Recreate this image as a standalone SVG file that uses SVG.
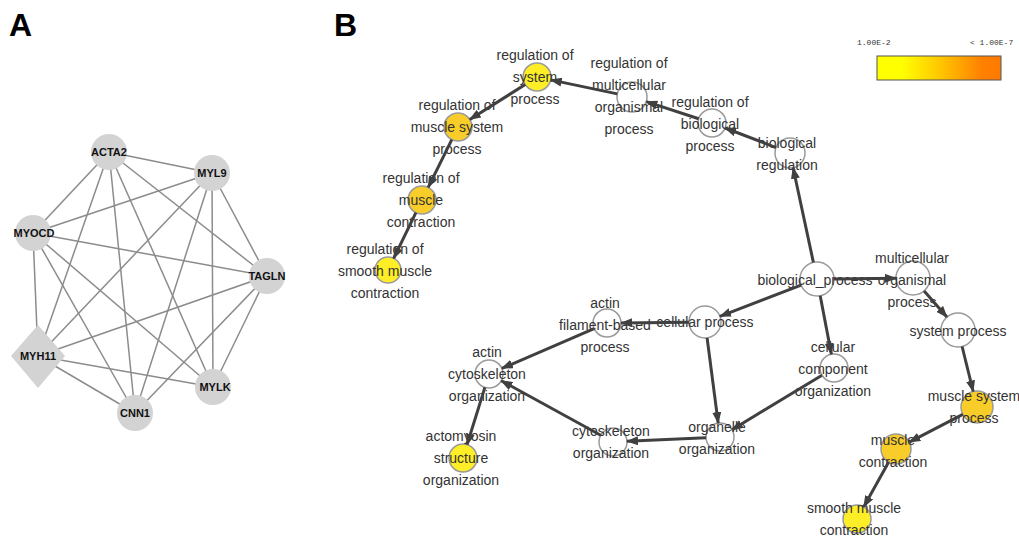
<svg xmlns="http://www.w3.org/2000/svg" width="1019" height="537" viewBox="0 0 1019 537">
<style>
.panel{font-family:"Liberation Sans",Arial,sans-serif;font-weight:bold;font-size:32px;fill:#000}
.ae{stroke:#8c8c8c;stroke-width:1.5;fill:none}
.an{fill:#d3d3d3;stroke:none}
.al{font-family:"Liberation Sans",Arial,sans-serif;font-weight:bold;font-size:11px;fill:#111;text-anchor:middle}
.bn{stroke:#9a9a9a;stroke-width:1.5;fill:#fff}
.yel{fill:#fdee27}
.org{fill:#f8cd2a}
.bl{font-family:"Liberation Sans",Arial,sans-serif;font-size:14px;fill:#333;text-anchor:middle}
.be{stroke:#404040;stroke-width:3;fill:none;marker-end:url(#ah)}
.leg{font-family:"Liberation Mono","Courier New",monospace;font-size:8px;fill:#333}
</style>
<defs>
<marker id="ah" markerUnits="userSpaceOnUse" markerWidth="12" markerHeight="9" refX="11" refY="4.5" orient="auto">
<path d="M0,0 L12,4.5 L0,9 z" fill="#404040"/>
</marker>
<linearGradient id="grad" x1="0" y1="0" x2="1" y2="0">
<stop offset="0" stop-color="#ffff00"/>
<stop offset="0.2" stop-color="#ffff00"/>
<stop offset="0.5" stop-color="#ffc800"/>
<stop offset="0.85" stop-color="#ff8000"/>
<stop offset="1" stop-color="#ff7a00"/>
</linearGradient>
</defs>
<rect width="1019" height="537" fill="#fff"/>
<text class="panel" x="9" y="36">A</text>
<text class="panel" x="334" y="36">B</text>

<g id="a-edges">
<line class="ae" x1="109" y1="152" x2="212" y2="173"/>
<line class="ae" x1="109" y1="152" x2="33" y2="233"/>
<line class="ae" x1="109" y1="152" x2="267" y2="276"/>
<line class="ae" x1="109" y1="152" x2="38" y2="356"/>
<line class="ae" x1="109" y1="152" x2="135" y2="413"/>
<line class="ae" x1="109" y1="152" x2="213" y2="387"/>
<line class="ae" x1="212" y1="173" x2="33" y2="233"/>
<line class="ae" x1="212" y1="173" x2="267" y2="276"/>
<line class="ae" x1="212" y1="173" x2="38" y2="356"/>
<line class="ae" x1="212" y1="173" x2="135" y2="413"/>
<line class="ae" x1="212" y1="173" x2="213" y2="387"/>
<line class="ae" x1="33" y1="233" x2="267" y2="276"/>
<line class="ae" x1="33" y1="233" x2="38" y2="356"/>
<line class="ae" x1="33" y1="233" x2="135" y2="413"/>
<line class="ae" x1="33" y1="233" x2="213" y2="387"/>
<line class="ae" x1="267" y1="276" x2="38" y2="356"/>
<line class="ae" x1="267" y1="276" x2="213" y2="387"/>
<line class="ae" x1="267" y1="276" x2="135" y2="413"/>
<line class="ae" x1="38" y1="356" x2="213" y2="387"/>
<line class="ae" x1="38" y1="356" x2="135" y2="413"/>
</g>

<g id="a-ACTA2"><circle class="an" cx="109" cy="152" r="18"/><text class="al" x="109" y="156">ACTA2</text></g>
<g id="a-MYL9"><circle class="an" cx="212" cy="173" r="18"/><text class="al" x="212" y="177">MYL9</text></g>
<g id="a-MYOCD"><circle class="an" cx="33" cy="233" r="18"/><text class="al" x="34" y="237">MYOCD</text></g>
<g id="a-TAGLN"><circle class="an" cx="267" cy="276" r="18"/><text class="al" x="267" y="280">TAGLN</text></g>
<g id="a-MYH11"><polygon class="an" points="38,325 65,356 38,388 11,356"/><text class="al" x="38" y="360">MYH11</text></g>
<g id="a-MYLK"><circle class="an" cx="213" cy="387" r="18"/><text class="al" x="215" y="391">MYLK</text></g>
<g id="a-CNN1"><circle class="an" cx="135" cy="413" r="18"/><text class="al" x="135" y="417">CNN1</text></g>

<g id="legend">
<text class="leg" x="857" y="45">1.00E-2</text>
<text class="leg" x="970" y="45">&lt; 1.00E-7</text>
<rect x="877" y="56" width="124" height="24" fill="url(#grad)" stroke="#555" stroke-width="1"/>
</g>

<g id="n-reg-system">
<circle class="bn yel" cx="537" cy="77" r="14"/>
<text class="bl" x="535" y="60"><tspan x="535">regulation of</tspan><tspan x="535" dy="22">system</tspan><tspan x="535" dy="22">process</tspan></text>
</g>
<g id="n-reg-multicellular">
<circle class="bn" cx="632" cy="97" r="15"/>
<text class="bl" x="629" y="68"><tspan x="629">regulation of</tspan><tspan x="629" dy="22">multicellular</tspan><tspan x="629" dy="22">organismal</tspan><tspan x="629" dy="22">process</tspan></text>
</g>
<g id="n-reg-muscle-system">
<circle class="bn org" cx="458" cy="127" r="14"/>
<text class="bl" x="457" y="110"><tspan x="457">regulation of</tspan><tspan x="457" dy="22">muscle system</tspan><tspan x="457" dy="22">process</tspan></text>
</g>
<g id="n-reg-muscle-contraction">
<circle class="bn org" cx="422" cy="200" r="14"/>
<text class="bl" x="421" y="183"><tspan x="421">regulation of</tspan><tspan x="421" dy="22">muscle</tspan><tspan x="421" dy="22">contraction</tspan></text>
</g>
<g id="n-reg-smooth">
<circle class="bn yel" cx="388" cy="270" r="13"/>
<text class="bl" x="385" y="254"><tspan x="385">regulation of</tspan><tspan x="385" dy="22">smooth muscle</tspan><tspan x="385" dy="22">contraction</tspan></text>
</g>
<g id="n-reg-biological">
<circle class="bn" cx="712" cy="123" r="14"/>
<text class="bl" x="710" y="107"><tspan x="710">regulation of</tspan><tspan x="710" dy="22">biological</tspan><tspan x="710" dy="22">process</tspan></text>
</g>
<g id="n-biological-regulation">
<circle class="bn" cx="790" cy="153" r="15"/>
<text class="bl" x="787" y="148"><tspan x="787">biological</tspan><tspan x="787" dy="22">regulation</tspan></text>
</g>
<g id="n-biological-process">
<circle class="bn" cx="817" cy="279" r="17"/>
<text class="bl" x="815" y="285">biological_process</text>
</g>
<g id="n-multicellular">
<circle class="bn" cx="913" cy="278" r="17"/>
<text class="bl" x="912" y="263"><tspan x="912">multicellular</tspan><tspan x="912" dy="22">organismal</tspan><tspan x="912" dy="22">process</tspan></text>
</g>
<g id="n-system-process">
<circle class="bn" cx="958" cy="330" r="17"/>
<text class="bl" x="958" y="336">system process</text>
</g>
<g id="n-cellular-component">
<circle class="bn" cx="834" cy="368" r="14"/>
<text class="bl" x="833" y="352"><tspan x="833">cellular</tspan><tspan x="833" dy="22">component</tspan><tspan x="833" dy="22">organization</tspan></text>
</g>
<g id="n-muscle-system">
<circle class="bn org" cx="977" cy="407" r="16"/>
<text class="bl" x="974" y="401"><tspan x="974">muscle system</tspan><tspan x="974" dy="22">process</tspan></text>
</g>
<g id="n-muscle-contraction">
<circle class="bn org" cx="896" cy="449" r="15"/>
<text class="bl" x="893" y="445"><tspan x="893">muscle</tspan><tspan x="893" dy="22">contraction</tspan></text>
</g>
<g id="n-smooth-muscle">
<circle class="bn yel" cx="857" cy="519" r="14"/>
<text class="bl" x="854" y="513"><tspan x="854">smooth muscle</tspan><tspan x="854" dy="22">contraction</tspan></text>
</g>
<g id="n-actin-filament">
<circle class="bn" cx="607" cy="323" r="14"/>
<text class="bl" x="605" y="308"><tspan x="605">actin</tspan><tspan x="605" dy="22">filament-based</tspan><tspan x="605" dy="22">process</tspan></text>
</g>
<g id="n-cellular-process">
<circle class="bn" cx="705" cy="322" r="16"/>
<text class="bl" x="705" y="327">cellular process</text>
</g>
<g id="n-actin-cytoskeleton">
<circle class="bn" cx="489" cy="374" r="14"/>
<text class="bl" x="487" y="357"><tspan x="487">actin</tspan><tspan x="487" dy="22">cytoskeleton</tspan><tspan x="487" dy="22">organization</tspan></text>
</g>
<g id="n-actomyosin">
<circle class="bn yel" cx="463" cy="458" r="14"/>
<text class="bl" x="461" y="441"><tspan x="461">actomyosin</tspan><tspan x="461" dy="22">structure</tspan><tspan x="461" dy="22">organization</tspan></text>
</g>
<g id="n-cytoskeleton">
<circle class="bn" cx="613" cy="442" r="14"/>
<text class="bl" x="611" y="436"><tspan x="611">cytoskeleton</tspan><tspan x="611" dy="22">organization</tspan></text>
</g>
<g id="n-organelle">
<circle class="bn" cx="720" cy="437" r="14"/>
<text class="bl" x="717" y="432"><tspan x="717">organelle</tspan><tspan x="717" dy="22">organization</tspan></text>
</g>

<g id="b-connectors">
<line class="be" x1="617.3" y1="93.9" x2="550.7" y2="79.9"/>
<line class="be" x1="698.7" y1="118.7" x2="646.3" y2="101.6"/>
<line class="be" x1="776" y1="147.6" x2="725.1" y2="128"/>
<line class="be" x1="813.4" y1="262.4" x2="793.1" y2="167.7"/>
<line class="be" x1="834" y1="279" x2="896" y2="278.2"/>
<line class="be" x1="924.1" y1="290.9" x2="946.9" y2="317.1"/>
<line class="be" x1="962.1" y1="346.5" x2="973.2" y2="391.5"/>
<line class="be" x1="962.8" y1="414.4" x2="909.3" y2="442.1"/>
<line class="be" x1="888.7" y1="462.1" x2="863.8" y2="506.8"/>
<line class="be" x1="801.1" y1="285.1" x2="719.9" y2="316.3"/>
<line class="be" x1="820.2" y1="295.7" x2="831.4" y2="354.3"/>
<line class="be" x1="822" y1="375.2" x2="732" y2="429.7"/>
<line class="be" x1="707.1" y1="337.9" x2="718.2" y2="423.1"/>
<line class="be" x1="689" y1="322.2" x2="621" y2="322.9"/>
<line class="be" x1="594.1" y1="328.6" x2="501.9" y2="368.4"/>
<line class="be" x1="706" y1="437.7" x2="627" y2="441.3"/>
<line class="be" x1="600.7" y1="435.3" x2="501.3" y2="380.7"/>
<line class="be" x1="484.9" y1="387.4" x2="467.1" y2="444.6"/>
<line class="be" x1="525.2" y1="84.5" x2="469.8" y2="119.5"/>
<line class="be" x1="451.8" y1="139.6" x2="428.2" y2="187.4"/>
<line class="be" x1="415.9" y1="212.6" x2="393.7" y2="258.3"/>
</g>
</svg>
